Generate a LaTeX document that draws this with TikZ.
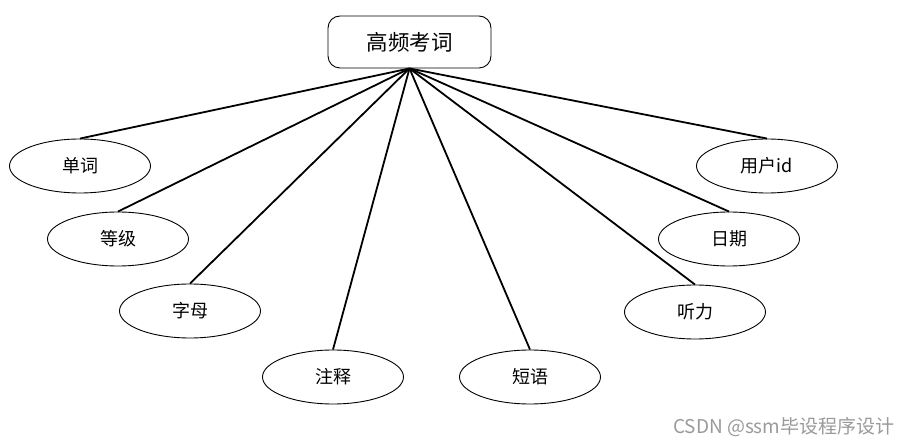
\documentclass[tikz,border=0pt]{standalone}
\usepackage{fontspec}
\setmainfont{Noto Sans CJK SC}
\usetikzlibrary{shapes.geometric}
\definecolor{wmgray}{HTML}{9a9a9a}

\begin{document}
\begin{tikzpicture}[x=1pt,y=-1pt,
  ent/.style={draw,line width=0.9pt,rounded corners=12pt,minimum width=163pt,minimum height=52pt,inner sep=0pt,font=\fontsize{21.5}{25}\selectfont},
  attr/.style={draw,ellipse,line width=0.9pt,minimum width=141pt,minimum height=54pt,inner sep=0pt,font=\fontsize{18}{21}\selectfont},
  link/.style={line width=1.8pt}]
  \useasboundingbox (0,0) rectangle (914,446);
  % entity
  \node[ent] (hf) at (409.5,42) {高频考词};
  % attributes
  \foreach \x/\y/\n/\t in {80/166/dc/单词, 118/239/dj/等级, 190/311/zm/字母, 333/377/zs/注释,
                           530/377/dy/短语, 695/312/tl/听力, 729/239/rq/日期, 767/166/yh/用户id}
    \node[attr] (\n) at (\x,\y) {\t};
  % links
  \foreach \n in {dc,dj,zm,zs,dy,tl,rq,yh}
    \draw[link] (hf.south) -- (\n.north);
  \node[wmgray,font=\fontsize{19}{22}\selectfont,anchor=east] (wm) at (898,427) {CSDN @ssm毕设程序设计};
\end{tikzpicture}
\end{document}
